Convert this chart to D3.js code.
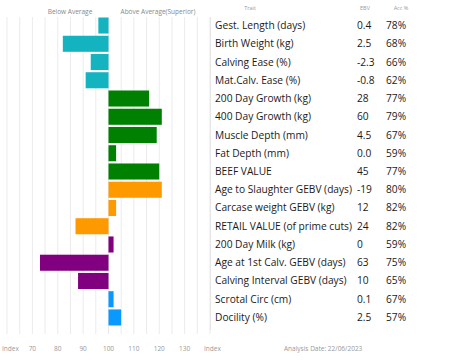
<!DOCTYPE html>
<html>
<head>
<meta charset="utf-8">
<script src="https://cdn.jsdelivr.net/npm/d3@7"></script>
<style>
  body { margin: 0; background: #fff; }
  svg { display: block; font-family: "Open Sans", sans-serif; }
</style>
</head>
<body>
<div id="chart"></div>
<script>
const traits = ["Gest. Length (days)", "Birth Weight (kg)", "Calving Ease (%)", "Mat.Calv. Ease (%)",
  "200 Day Growth (kg)", "400 Day Growth (kg)", "Muscle Depth (mm)", "Fat Depth (mm)", "BEEF VALUE",
  "Age to Slaughter GEBV (days)", "Carcase weight GEBV (kg)", "RETAIL VALUE (of prime cuts)",
  "200 Day Milk (kg)", "Age at 1st Calv. GEBV (days)", "Calving Interval GEBV (days)",
  "Scrotal Circ (cm)", "Docility (%)"];
const ebv = ["0.4", "2.5", "-2.3", "-0.8", "28", "60", "4.5", "0.0", "45", "-19", "12", "24", "0", "63", "10", "0.1", "2.5"];
const acc = ["78%", "68%", "66%", "62%", "77%", "79%", "67%", "59%", "77%", "80%", "82%", "82%", "59%", "75%", "65%", "67%", "57%"];
const index = [96, 82, 93, 91, 116, 121, 119, 103, 120, 121, 103, 87, 102, 73, 88, 102, 105];
const groups = ["calving", "calving", "calving", "calving", "growth", "growth", "growth", "growth", "growth",
  "carcase", "carcase", "carcase", "maternal", "maternal", "maternal", "other", "other"];
const tickValues = [70, 80, 90, 100, 110, 120, 130];

const color = d3.scaleOrdinal()
  .domain(["calving", "growth", "carcase", "maternal", "other"])
  .range(["#13b4c0", "#008000", "#ff9900", "#800080", "#0a99ff"]);

const width = 453, height = 362;
const svg = d3.select("#chart").append("svg")
  .attr("width", width)
  .attr("height", height);

const x = d3.scaleLinear().domain([60, 140]).range([7, 210]);
const y = d3.scaleBand().domain(d3.range(traits.length)).range([17.5, 325.5]).paddingInner(0.12);

// grid lines every 5
svg.append("g")
  .selectAll("line")
  .data(d3.range(60, 141, 5))
  .join("line")
  .attr("x1", d => x(d)).attr("x2", d => x(d))
  .attr("y1", 17).attr("y2", 334)
  .attr("stroke", "#ebebeb")
  .attr("stroke-width", 1);

// bars
svg.append("g")
  .selectAll("rect")
  .data(index)
  .join("rect")
  .attr("x", d => x(Math.min(d, 100)))
  .attr("width", d => Math.abs(x(d) - x(100)))
  .attr("y", (d, i) => y(i))
  .attr("height", y.bandwidth())
  .attr("fill", (d, i) => color(groups[i]));

// header labels
svg.append("text").attr("x", 70).attr("y", 14).attr("text-anchor", "middle")
  .style("font-size", "6.5px").attr("fill", "#888").text("Below Average");
svg.append("text").attr("x", 158).attr("y", 14).attr("text-anchor", "middle")
  .style("font-size", "6.5px").attr("fill", "#888").text("Above Average(Superior)");

// bottom axis
const axis = svg.append("g").attr("transform", "translate(0,351)");
axis.selectAll("text.tick")
  .data(tickValues)
  .join("text")
  .attr("class", "tick")
  .attr("x", d => x(d))
  .attr("text-anchor", "middle")
  .style("font-size", "6.5px")
  .attr("fill", "#999")
  .text(d => d);
axis.append("text").attr("x", 2).style("font-size", "6.5px").attr("fill", "#999").text("Index");
axis.append("text").attr("x", 204).style("font-size", "6.5px").attr("fill", "#999").text("Index");
axis.append("text").attr("x", 284).style("font-size", "6.5px").attr("fill", "#999").text("Analysis Date: 22/06/2023");

// table
svg.append("line")
  .attr("x1", 210.5).attr("x2", 210.5)
  .attr("y1", 17).attr("y2", 330)
  .attr("stroke", "#e6e6e6");

svg.append("text").attr("x", 250).attr("y", 10).attr("text-anchor", "middle")
  .style("font-size", "5.5px").attr("fill", "#999").text("Trait");
svg.append("text").attr("x", 365).attr("y", 10).attr("text-anchor", "middle")
  .style("font-size", "5.5px").attr("fill", "#999").text("EBV");
svg.append("text").attr("x", 401).attr("y", 10).attr("text-anchor", "middle")
  .style("font-size", "5.5px").attr("fill", "#999").text("Acc %");

const rows = svg.append("g")
  .selectAll("g")
  .data(traits)
  .join("g")
  .attr("transform", (d, i) => `translate(0,${y(i) + y.bandwidth() / 2 + 3.5})`)
  .style("font-size", "10.2px")
  .attr("fill", "#1a1a1a");

rows.append("text").attr("x", 215).text(d => d);
rows.append("text").attr("x", 357).text((d, i) => ebv[i]);
rows.append("text").attr("x", 386).text((d, i) => acc[i]);
</script>
</body>
</html>
